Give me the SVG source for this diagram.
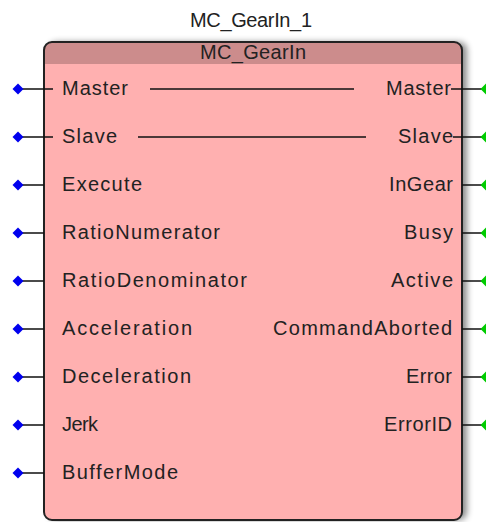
<svg xmlns="http://www.w3.org/2000/svg" width="486" height="522" viewBox="0 0 486 522">
<defs>
<style>
text{font-family:"Liberation Sans",Arial,sans-serif;font-size:20px;fill:#222}
.l{text-anchor:start}
.r{text-anchor:end}
.c{text-anchor:middle}
.w{stroke:#111;stroke-width:1.5;fill:none}
.in{fill:#0000ee}
.out{fill:#00cc00}
</style>
<filter id="sh" x="-10%" y="-10%" width="120%" height="120%">
<feDropShadow dx="5" dy="0" stdDeviation="3" flood-color="#000" flood-opacity="0.45"/>
</filter>
<path id="dia" d="M0,-5.5 L5.5,0 L0,5.5 L-5.5,0 Z"/>
</defs>
<rect width="486" height="522" fill="#fff"/>
<text class="c" x="251" y="27" textLength="122" lengthAdjust="spacing">MC_GearIn_1</text>
<g id="block">
<rect x="44" y="42" width="418" height="478" rx="8" fill="#ffb0b0" filter="url(#sh)"/>
<path d="M52,42 H454 A8,8 0 0 1 462,50 V64 H44 V50 A8,8 0 0 1 52,42 Z" fill="#cc8c8c"/>
<rect x="44" y="42" width="418" height="478" rx="8" fill="none" stroke="#222" stroke-width="2"/>
<text class="c" x="253" y="59" textLength="106" lengthAdjust="spacing">MC_GearIn</text>
</g>
<g id="connectors">
<path class="w" d="M18,89 H53 M150,89 H354 M451,89 H486 M18,137 H53 M138,137 H366 M453,137 H486 M18,185 H44 M18,233 H44 M18,281 H44 M18,329 H44 M18,377 H44 M18,425 H44 M18,473 H44 M462,185 H486 M462,233 H486 M462,281 H486 M462,329 H486 M462,377 H486 M462,425 H486"/>
</g>
<g id="inputs">
<use href="#dia" class="in" x="18" y="89"/>
<use href="#dia" class="in" x="18" y="137"/>
<use href="#dia" class="in" x="18" y="185"/>
<use href="#dia" class="in" x="18" y="233"/>
<use href="#dia" class="in" x="18" y="281"/>
<use href="#dia" class="in" x="18" y="329"/>
<use href="#dia" class="in" x="18" y="377"/>
<use href="#dia" class="in" x="18" y="425"/>
<use href="#dia" class="in" x="18" y="473"/>
<text class="l" x="62" y="95" textLength="66" lengthAdjust="spacing">Master</text>
<text class="l" x="62" y="143" textLength="55" lengthAdjust="spacing">Slave</text>
<text class="l" x="62" y="191" textLength="80" lengthAdjust="spacing">Execute</text>
<text class="l" x="62" y="239" textLength="158" lengthAdjust="spacing">RatioNumerator</text>
<text class="l" x="62" y="287" textLength="185" lengthAdjust="spacing">RatioDenominator</text>
<text class="l" x="62" y="335" textLength="130" lengthAdjust="spacing">Acceleration</text>
<text class="l" x="62" y="383" textLength="129" lengthAdjust="spacing">Deceleration</text>
<text class="l" x="62" y="431" textLength="36" lengthAdjust="spacing">Jerk</text>
<text class="l" x="62" y="479" textLength="116" lengthAdjust="spacing">BufferMode</text>
</g>
<g id="outputs">
<use href="#dia" class="out" x="486" y="89"/>
<use href="#dia" class="out" x="486" y="137"/>
<use href="#dia" class="out" x="486" y="185"/>
<use href="#dia" class="out" x="486" y="233"/>
<use href="#dia" class="out" x="486" y="281"/>
<use href="#dia" class="out" x="486" y="329"/>
<use href="#dia" class="out" x="486" y="377"/>
<use href="#dia" class="out" x="486" y="425"/>
<text class="r" x="451" y="95" textLength="65" lengthAdjust="spacing">Master</text>
<text class="r" x="453" y="143" textLength="55" lengthAdjust="spacing">Slave</text>
<text class="r" x="453" y="191" textLength="64" lengthAdjust="spacing">InGear</text>
<text class="r" x="453" y="239" textLength="49" lengthAdjust="spacing">Busy</text>
<text class="r" x="453" y="287" textLength="62" lengthAdjust="spacing">Active</text>
<text class="r" x="452" y="335" textLength="179" lengthAdjust="spacing">CommandAborted</text>
<text class="r" x="452" y="383" textLength="46" lengthAdjust="spacing">Error</text>
<text class="r" x="452" y="431" textLength="68" lengthAdjust="spacing">ErrorID</text>
</g>
</svg>
